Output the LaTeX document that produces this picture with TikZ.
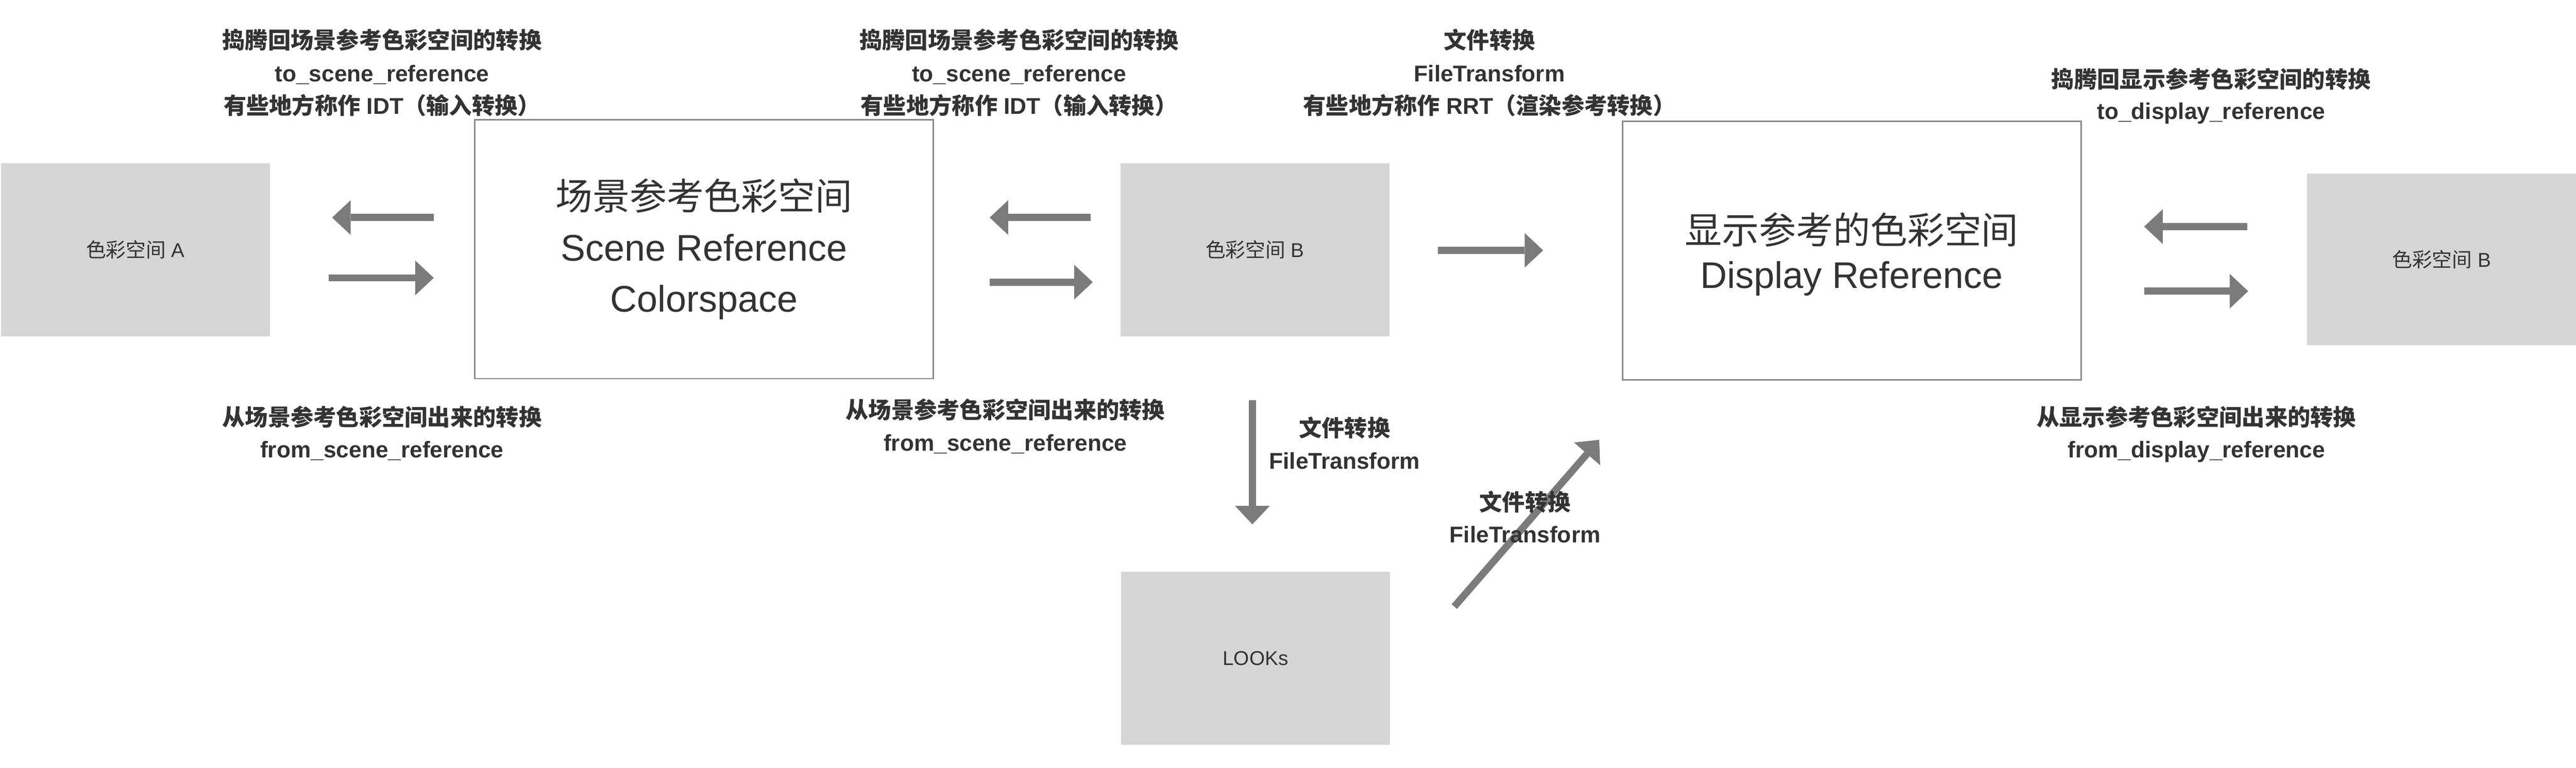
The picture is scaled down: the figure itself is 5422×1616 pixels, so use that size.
\documentclass[tikz,border=0pt]{standalone}
\usepackage{fontspec}
\setmainfont{Liberation Sans}
\newfontfamily\cjk{Noto Sans CJK SC}
\usetikzlibrary{arrows.meta}
\definecolor{boxgray}{HTML}{D6D6D6}
\definecolor{arrowgray}{HTML}{7B7B7B}
\definecolor{bordergray}{HTML}{8A8A8A}
\definecolor{txtgray}{HTML}{333333}
\newcommand\zh[1]{{\cjk #1}}
\begin{document}
\begin{tikzpicture}[x=0.2pt,y=-0.2pt,
  graybox/.style={fill=boxgray,draw=none,minimum width=113.2pt,minimum height=72.8pt,inner sep=0pt,text=txtgray,font=\fontsize{8.4pt}{10pt}\selectfont},
  bigbox/.style={draw=bordergray,line width=0.6pt,fill=white,minimum width=193pt,minimum height=109pt,inner sep=0pt,text=txtgray,align=center},
  fatarrow/.style={draw=arrowgray,line width=3pt,-{Triangle[length=7.8pt,width=14.6pt,line width=0pt]}},
  lbl/.style={anchor=base,text=txtgray,inner sep=0pt,font=\bfseries\fontsize{9.6pt}{11pt}\selectfont},
]
\useasboundingbox (0,0) rectangle (5422,1616);

% boxes
\node[graybox] (csA) at (285,526) {\zh{色彩空间} A};
\node[bigbox,font=\fontsize{15.6pt}{21.4pt}\selectfont] (scene) at (1482,524.5) {\zh{场景参考色彩空间}\\Scene Reference\\Colorspace};
\node[graybox] (csB) at (2641.5,526) {\zh{色彩空间} B};
\node[graybox] (looks) at (2642.5,1386) {LOOKs};
\node[bigbox,font=\fontsize{15.6pt}{18.6pt}\selectfont] (display) at (3897.5,527.5) {\rule{0pt}{16.2pt}\zh{显示参考的色彩空间}\\Display Reference};
\node[graybox,minimum height=72.4pt] (csB2) at (5139,546) {\zh{色彩空间} B};

% arrow end points
\coordinate (a1s) at (913,458);  \coordinate (a1e) at (699,458);
\coordinate (a2s) at (692,585);  \coordinate (a2e) at (913,585);
\coordinate (a3s) at (2296,458); \coordinate (a3e) at (2083,458);
\coordinate (a4s) at (2083,594); \coordinate (a4e) at (2300,594);
\coordinate (a5s) at (3027,527); \coordinate (a5e) at (3248,527);
\coordinate (a6s) at (4730,477); \coordinate (a6e) at (4513,477);
\coordinate (a7s) at (4513,613); \coordinate (a7e) at (4732,613);
\coordinate (a8s) at (2636,843); \coordinate (a8e) at (2636,1104);
\coordinate (a9s) at (3061,1277); \coordinate (a9e) at (3366,926);

\draw[fatarrow] (a1s) -- (a1e);
\draw[fatarrow] (a2s) -- (a2e);
\draw[fatarrow] (a3s) -- (a3e);
\draw[fatarrow] (a4s) -- (a4e);
\draw[fatarrow] (a5s) -- (a5e);
\draw[fatarrow] (a6s) -- (a6e);
\draw[fatarrow] (a7s) -- (a7e);
\draw[fatarrow] (a8s) -- (a8e);
\draw[fatarrow] (a9s) -- (a9e);

% labels top
\node[lbl] (t1a) at (804,102) {\zh{捣腾回场景参考色彩空间的转换}};
\node[lbl] (t1b) at (804,172) {to\_scene\_reference};
\node[lbl] (t1c) at (804,240) {\zh{有些地方称作} IDT\zh{（输入转换）}};

\node[lbl] (t2a) at (2145,102) {\zh{捣腾回场景参考色彩空间的转换}};
\node[lbl] (t2b) at (2145,172) {to\_scene\_reference};
\node[lbl] (t2c) at (2145,240) {\zh{有些地方称作} IDT\zh{（输入转换）}};

\node[lbl] (t3a) at (3135,102) {\zh{文件转换}};
\node[lbl] (t3b) at (3135,172) {FileTransform};
\node[lbl] (t3c) at (3135,240) {\zh{有些地方称作} RRT\zh{（渲染参考转换）}};

\node[lbl] (t4a) at (4654,185) {\zh{捣腾回显示参考色彩空间的转换}};
\node[lbl] (t4b) at (4654,251) {to\_display\_reference};

% labels bottom
\node[lbl] (b1a) at (804,896) {\zh{从场景参考色彩空间出来的转换}};
\node[lbl] (b1b) at (804,964) {from\_scene\_reference};

\node[lbl] (b2a) at (2116,881) {\zh{从场景参考色彩空间出来的转换}};
\node[lbl] (b2b) at (2116,949) {from\_scene\_reference};

\node[lbl] (b4a) at (4623,896) {\zh{从显示参考色彩空间出来的转换}};
\node[lbl] (b4b) at (4623,964) {from\_display\_reference};

\node[lbl] (v1a) at (2830,919) {\zh{文件转换}};
\node[lbl] (v1b) at (2830,987) {FileTransform};

\node[lbl] (d1a) at (3210,1075) {\zh{文件转换}};
\node[lbl] (d1b) at (3210,1142) {FileTransform};
\end{tikzpicture}
\end{document}
